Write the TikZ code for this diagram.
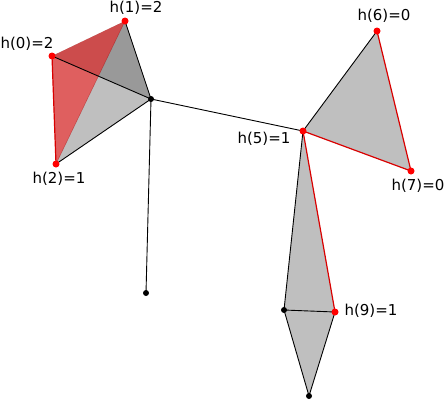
\documentclass[tikz,border=0pt]{standalone}
\usepackage{fontspec}
\setmainfont{DejaVu Sans}
\begin{document}
\begin{tikzpicture}[x=1pt,y=-1pt,
  edge/.style={black,line width=0.9pt},
  redge/.style={red!85!black,line width=1.2pt},
  rdot/.style={circle,fill=red,inner sep=0pt,minimum size=7pt},
  bdot/.style={circle,fill=black,inner sep=0pt,minimum size=6pt},
  lab/.style={inner sep=0pt,font=\fontsize{15}{18}\selectfont}]
\useasboundingbox (0,0) rectangle (446,400);
\coordinate (v0) at (52,56);
\coordinate (v1) at (125,21);
\coordinate (v2) at (56,164);
\coordinate (c) at (151,99);
\coordinate (e) at (146,293);
\coordinate (v5) at (303,131);
\coordinate (v6) at (377,31);
\coordinate (v7) at (411,171);
\coordinate (v9) at (335,312);
\coordinate (m) at (284,310);
\coordinate (b) at (309,396);
% faces
\fill[black!40] (v0) -- (v1) -- (c) -- cycle;
\fill[black!25] (v0) -- (c) -- (v2) -- cycle;
\fill[red,opacity=0.5] (v0) -- (v1) -- (v2) -- cycle;
\draw[red!60!black,opacity=0.4,line width=0.5pt] (v1) -- (v2);
\fill[black!25] (v5) -- (v6) -- (v7) -- cycle;
\fill[black!25] (v5) -- (m) -- (b) -- (v9) -- cycle;
% edges
\draw[edge] (v0) -- (c);
\draw[edge] (v1) -- (c);
\draw[edge] (v2) -- (c);
\draw[edge] (c) -- (e);
\draw[edge] (c) -- (v5);
\draw[redge] (v0) -- (v2);
\draw[edge] (v5) -- (v6);
\draw[redge] (v6) -- (v7);
\draw[redge] (v5) -- (v7);
\draw[edge] (v5) -- (m);
\draw[edge] (m) -- (b);
\draw[edge] (b) -- (v9);
\draw[edge] (m) -- (v9);
\draw[redge] (v5) -- (v9);
% dots
\node[rdot] (n0) at (v0) {};
\node[rdot] (n1) at (v1) {};
\node[rdot] (n2) at (v2) {};
\node[bdot] (nc) at (c) {};
\node[bdot] (ne) at (e) {};
\node[rdot] (n5) at (v5) {};
\node[rdot] (n6) at (v6) {};
\node[rdot] (n7) at (v7) {};
\node[rdot] (n9) at (v9) {};
\node[bdot] (nm) at (m) {};
\node[bdot] (nb) at (b) {};
% labels
\node[lab] (l0) at (27,44) {h(0)=2};
\node[lab] (l1) at (136,8) {h(1)=2};
\node[lab] (l2) at (59,179) {h(2)=1};
\node[lab] (l5) at (264,139) {h(5)=1};
\node[lab] (l6) at (384,16) {h(6)=0};
\node[lab] (l7) at (418,186) {h(7)=0};
\node[lab] (l9) at (371,311) {h(9)=1};
\end{tikzpicture}
\end{document}
